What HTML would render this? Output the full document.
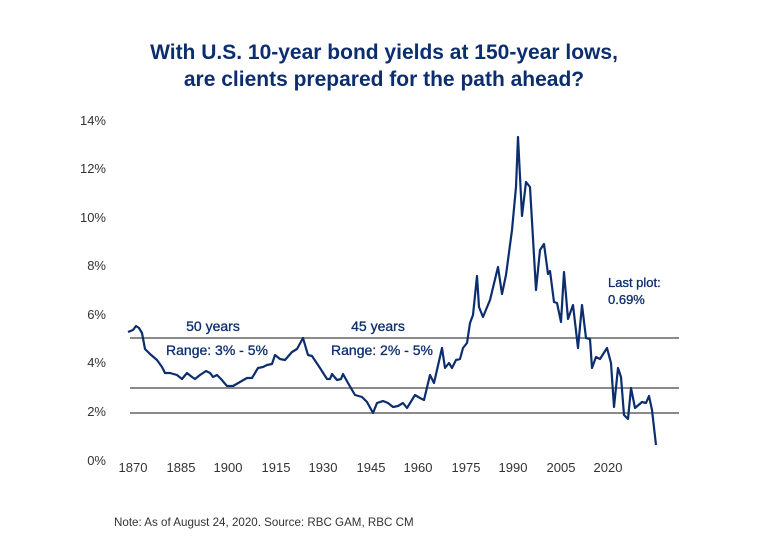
<!DOCTYPE html>
<html><head><meta charset="utf-8"><style>
html,body{margin:0;padding:0;background:#fff;width:768px;height:554px;overflow:hidden}
svg{display:block}
</style></head><body>
<svg width="768" height="554" xmlns="http://www.w3.org/2000/svg" font-family="Liberation Sans, sans-serif">
<text x="384" y="59" text-anchor="middle" font-size="21" font-weight="bold" fill="#0c2e6e">With U.S. 10-year bond yields at 150-year lows,</text>
<text x="384" y="86" text-anchor="middle" font-size="21" font-weight="bold" fill="#0c2e6e">are clients prepared for the path ahead?</text>
<g font-size="13" fill="#333" text-anchor="end">
<text x="106" y="125">14%</text><text x="106" y="173">12%</text><text x="106" y="222">10%</text>
<text x="106" y="270">8%</text><text x="106" y="319">6%</text><text x="106" y="367">4%</text>
<text x="106" y="416">2%</text><text x="106" y="465">0%</text>
</g>
<g font-size="13" fill="#333" text-anchor="middle">
<text x="133" y="472">1870</text><text x="181" y="472">1885</text><text x="228" y="472">1900</text>
<text x="276" y="472">1915</text><text x="323" y="472">1930</text><text x="371" y="472">1945</text>
<text x="418" y="472">1960</text><text x="466" y="472">1975</text><text x="513" y="472">1990</text>
<text x="561" y="472">2005</text><text x="608" y="472">2020</text>
</g>
<g stroke="#8a8a8a" stroke-width="2">
<line x1="130" y1="338" x2="679" y2="338"/><line x1="130" y1="388" x2="679" y2="388"/><line x1="130" y1="413" x2="679" y2="413"/>
</g>
<g font-size="14" fill="#0c2e6e" text-anchor="middle" stroke="#0c2e6e" stroke-width="0.3">
<text x="213" y="331">50 years</text><text x="217" y="355">Range: 3% - 5%</text>
<text x="378" y="331">45 years</text><text x="382" y="355">Range: 2% - 5%</text>
</g>
<g font-size="13" fill="#0c2e6e" stroke="#0c2e6e" stroke-width="0.3"><text x="608" y="287">Last plot:</text><text x="608" y="304">0.69%</text></g>
<polyline fill="none" stroke="#0c2e6e" stroke-width="2.2" stroke-linejoin="round" points="128,332 133,330 136,326 139,328 142,333 145,349 150,354 157,360 162,367 165,373 170,373 177,375 182,379 187,373 192,377 195,379 200,375 206,371 210,373 213,377 217,375 221,379 227,386 233,386 240,382 247,378 252,378 258,368 263,367 267,365 272,364 275,355 280,359 285,360 292,352 297,349 303,338 308,355 312,356 320,368 327,379 330,379 332,374 337,380 341,379 343,374 348,383 355,395 362,397 367,402 373,413 377,403 383,401 388,403 393,407 398,406 403,403 407,408 415,395 420,398 424,400 430,375 434,383 442,348 445,368 449,363 452,368 456,360 460,359 463,348 467,343 470,323 473,315 477,276 479,307 483,317 490,300 498,267 502,294 506,275 512,230 516,187 518,137 522,216 526,182 530,187 536,290 540,250 544,244 548,274 550,271 554,302 557,303 561,322 564,272 568,319 573,305 578,348 582,305 586,338 590,339 592,368 596,357 600,359 607,348 611,363 614,407 618,368 621,377 624,415 628,419 631,388 635,408 642,402 646,403 649,396 652,410 656,445"/>
<text x="114" y="526" font-size="11.6" fill="#333">Note: As of August 24, 2020. Source: RBC GAM, RBC CM</text>
</svg>
</body></html>
